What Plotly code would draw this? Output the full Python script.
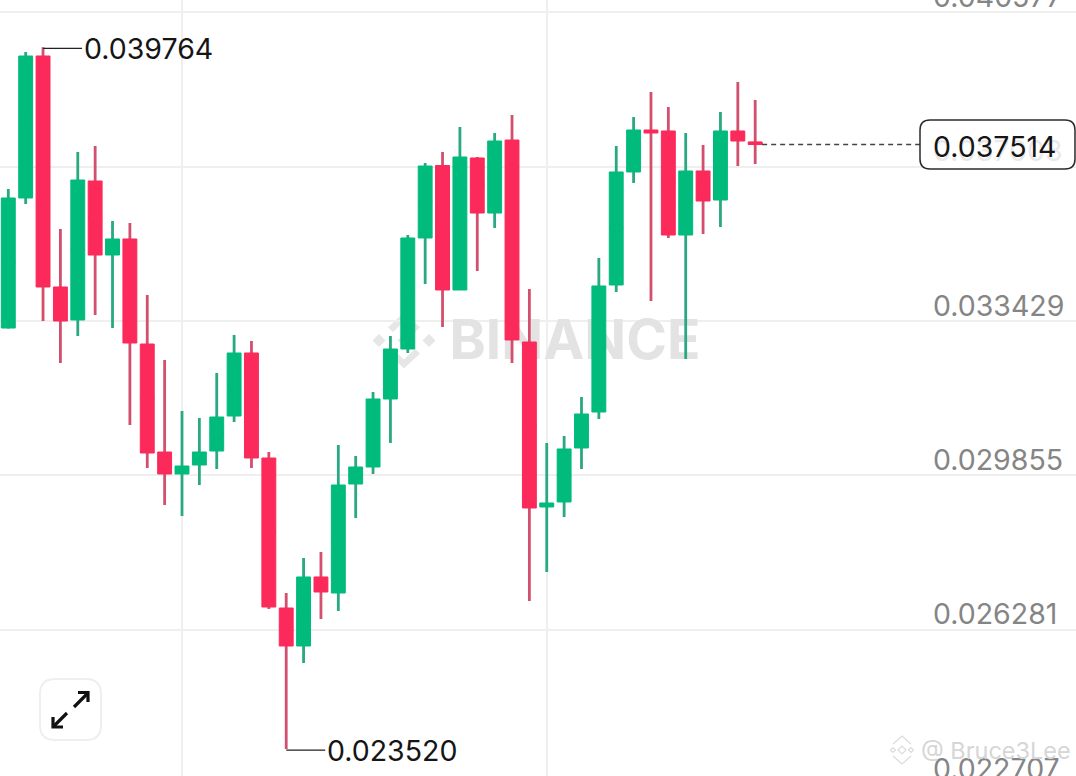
import plotly.graph_objects as go

W, H = 1076, 776

opens = [0.033267, 0.036277, 0.039564, 0.034217, 0.033453, 0.036670, 0.034957, 0.035328, 0.032897, 0.030397,
         0.029888, 0.030096, 0.030420, 0.031230, 0.032689, 0.030258, 0.026786, 0.025906, 0.027504, 0.027133,
         0.029656, 0.030050, 0.031624, 0.032781, 0.035351, 0.037029, 0.034147, 0.037203, 0.035929, 0.037619,
         0.032943, 0.029124, 0.029240, 0.030490, 0.031323, 0.034263, 0.036879, 0.037851, 0.037828, 0.035420,
         0.036902, 0.036230, 0.037828, 0.037573]
highs = [0.036485, 0.039656, 0.039764, 0.035559, 0.037342, 0.037480, 0.035744, 0.035698, 0.034031, 0.032527,
         0.031346, 0.031184, 0.032226, 0.033105, 0.032967, 0.030397, 0.027133, 0.027943, 0.028082, 0.030559,
         0.030305, 0.031786, 0.033082, 0.035420, 0.037087, 0.037342, 0.037920, 0.037226, 0.037781, 0.038198,
         0.034170, 0.030605, 0.030767, 0.031670, 0.034888, 0.037480, 0.038152, 0.038730, 0.038383, 0.037781,
         0.037504, 0.038267, 0.038962, 0.038545]
lows = [0.033256, 0.036138, 0.033429, 0.032457, 0.033082, 0.033568, 0.033267, 0.031022, 0.030027, 0.029170,
        0.028916, 0.029633, 0.030004, 0.031092, 0.030027, 0.026763, 0.023520, 0.025513, 0.026531, 0.026717,
        0.028869, 0.029888, 0.030605, 0.032689, 0.034286, 0.033291, 0.034147, 0.034587, 0.035582, 0.032457,
        0.026948, 0.027619, 0.028892, 0.030004, 0.031161, 0.034101, 0.036624, 0.033892, 0.035351, 0.032550,
        0.035443, 0.035605, 0.037017, 0.037064]
closes = [0.036277, 0.039564, 0.034217, 0.033429, 0.036693, 0.034957, 0.035328, 0.032920, 0.030374, 0.029888,
          0.030073, 0.030397, 0.031207, 0.032689, 0.030258, 0.026809, 0.025906, 0.027504, 0.027156, 0.029633,
          0.030050, 0.031624, 0.032781, 0.035351, 0.037017, 0.034147, 0.037226, 0.035929, 0.037596, 0.032990,
          0.029101, 0.029217, 0.030467, 0.031277, 0.034240, 0.036879, 0.037851, 0.037781, 0.035420, 0.036902,
          0.036207, 0.037828, 0.037596, 0.037514]

price_ticks = [0.040577, 0.037003, 0.033429, 0.029855, 0.026281, 0.022707]
price_labels = ["0.040577", "0.037003", "0.033429", "0.029855", "0.026281", "0.022707"]
time_ticks = [10, 31]
max_price, min_price, last_price = 0.039764, 0.023520, 0.037514
max_index, min_index, last_index = 2, 16, 43

Y_MIN, Y_MAX = 0.022897, 0.040860
X_MIN, X_MAX = -0.478, 61.47

GREEN, RED = "#00bb7c", "#fb2a5a"
GREEN_WICK, RED_WICK = "#2aa882", "#d2506e"
FONT = "Inter"
LABEL_SIZE = 28.5


def px(x):
    return x / W


def py(y):
    return 1 - y / H


def path(*pts, close=False):
    s = "M " + " L ".join(f"{px(x):.5f},{py(y):.5f}" for x, y in pts)
    return s + (" Z" if close else "")


def rounded(x0, y0, x1, y1, r):
    return (f"M {px(x0 + r):.5f},{py(y0):.5f} L {px(x1 - r):.5f},{py(y0):.5f} "
            f"Q {px(x1):.5f},{py(y0):.5f} {px(x1):.5f},{py(y0 + r):.5f} "
            f"L {px(x1):.5f},{py(y1 - r):.5f} Q {px(x1):.5f},{py(y1):.5f} {px(x1 - r):.5f},{py(y1):.5f} "
            f"L {px(x0 + r):.5f},{py(y1):.5f} Q {px(x0):.5f},{py(y1):.5f} {px(x0):.5f},{py(y1 - r):.5f} "
            f"L {px(x0):.5f},{py(y0 + r):.5f} Q {px(x0):.5f},{py(y0):.5f} {px(x0 + r):.5f},{py(y0):.5f} Z")


fig = go.Figure()

# Watermark lives on the base axes so that the candles (overlay axes) cover it.
fig.add_trace(go.Scatter(
    x=[25.4], y=[0.032870], mode="text", text=["BINANCE"], textposition="middle right",
    textfont=dict(family=FONT, size=55, color="#e3e3e3", weight=700),
    hoverinfo="skip", showlegend=False, xaxis="x", yaxis="y",
))

up = [i for i in range(len(opens)) if closes[i] >= opens[i]]
down = [i for i in range(len(opens)) if closes[i] < opens[i]]


def add_group(idx, wick):
    mid = [(opens[i] + closes[i]) / 2 for i in idx]
    fig.add_trace(go.Candlestick(
        x=idx, open=mid, close=mid, high=[highs[i] for i in idx], low=[lows[i] for i in idx],
        increasing=dict(line=dict(color=wick, width=2.8), fillcolor=wick),
        decreasing=dict(line=dict(color=wick, width=2.8), fillcolor=wick),
        whiskerwidth=0, hoverinfo="skip", showlegend=False, xaxis="x2", yaxis="y2",
    ))


def add_bodies(idx, body):
    o = [opens[i] for i in idx]
    c = [closes[i] for i in idx]
    fig.add_trace(go.Candlestick(
        x=idx, open=o, close=c, high=[max(a, b) for a, b in zip(o, c)], low=[min(a, b) for a, b in zip(o, c)],
        increasing=dict(line=dict(color=body, width=1), fillcolor=body),
        decreasing=dict(line=dict(color=body, width=1), fillcolor=body),
        whiskerwidth=0, hoverinfo="skip", showlegend=False, xaxis="x2", yaxis="y2",
    ))


add_group(up, GREEN_WICK)
add_group(down, RED_WICK)
add_bodies(up, GREEN)
add_bodies(down, RED)

shapes = []
# Binance logo of the centre watermark
LOGO = "#e6e6e6"
cx, cy, d = 404, 340.5, 6.5
for ox, oy in [(0, 0), (-25, 0), (25, 0)]:
    shapes.append(dict(type="path", xref="paper", yref="paper", layer="below", line_width=0, fillcolor=LOGO,
                       path=path((cx + ox - d, cy + oy), (cx + ox, cy + oy - d), (cx + ox + d, cy + oy), (cx + ox, cy + oy + d), close=True)))
for s in (-1, 1):
    shapes.append(dict(type="path", xref="paper", yref="paper", layer="below", line_width=0, fillcolor=LOGO,
                       path=path((cx - 11, cy + s * 8.5), (cx, cy + s * 19), (cx + 11, cy + s * 8.5),
                                 (cx + 16, cy + s * 13), (cx, cy + s * 28), (cx - 16, cy + s * 13), close=True)))

# Last-price dashed line and pill
shapes.append(dict(type="line", xref="x2", yref="y2", x0=last_index + 0.4, x1=53, y0=last_price, y1=last_price,
                   line=dict(color="#444444", width=1.4, dash="5px,4px")))
shapes.append(dict(type="path", xref="paper", yref="paper", path=rounded(920, 120, 1075, 169, 10),
                   fillcolor="#ffffff", line=dict(color="#2b2b2b", width=1.5)))

# Expand button
shapes.append(dict(type="path", xref="paper", yref="paper", path=rounded(40, 679, 101, 740, 15),
                   fillcolor="#ffffff", line=dict(color="#efefef", width=2)))
for pts in [[(74, 707), (87, 694)], [(78, 692.5), (88, 692.5), (88, 702)],
            [(67, 713), (54, 726)], [(63, 727), (53, 727), (53, 717)]]:
    shapes.append(dict(type="path", xref="paper", yref="paper", path=path(*pts), line=dict(color="#111111", width=3.2)))

# Small author logo
for ox, oy, r in [(902, 750, 4), (893, 750, 2.5), (911, 750, 2.5)]:
    shapes.append(dict(type="path", xref="paper", yref="paper",
                       path=path((ox - r, oy), (ox, oy - r), (ox + r, oy), (ox, oy + r), close=True),
                       line=dict(color="#dcdcdc", width=1.2)))
shapes.append(dict(type="path", xref="paper", yref="paper", path=path((893, 744), (902, 736), (911, 744)),
                   line=dict(color="#dcdcdc", width=1.2)))
shapes.append(dict(type="path", xref="paper", yref="paper", path=path((893, 756), (902, 764), (911, 756)),
                   line=dict(color="#dcdcdc", width=1.2)))

annotations = []
for value, label in zip(price_ticks, price_labels):
    hidden = label == "0.037003"
    annotations.append(dict(
        xref="paper", yref="paper", x=px(931), y=(value - Y_MIN) / (Y_MAX - Y_MIN), yshift=16,
        text=label, showarrow=False, xanchor="left", yanchor="middle",
        font=dict(family=FONT, size=LABEL_SIZE, color="#e9e9e9" if hidden else "#858585"),
    ))

annotations.append(dict(
    xref="x2", yref="y2", x=max_index, y=max_price, ax=39, ay=0, text=f"{max_price:.6f}", showarrow=True,
    arrowhead=0, arrowwidth=1.2, arrowcolor="#222222", xanchor="left", yanchor="middle", standoff=0, yshift=-1,
    font=dict(family=FONT, size=LABEL_SIZE, color="#151515"),
))
annotations.append(dict(
    xref="x2", yref="y2", x=min_index, y=min_price, ax=39, ay=0, text=f"{min_price:.6f}", showarrow=True,
    arrowhead=0, arrowwidth=1.2, arrowcolor="#222222", xanchor="left", yanchor="middle", standoff=0, yshift=-1,
    font=dict(family=FONT, size=LABEL_SIZE, color="#151515"),
))
annotations.append(dict(
    xref="paper", yref="paper", x=px(931), y=py(146), text=f"{last_price:.6f}", showarrow=False,
    xanchor="left", yanchor="middle", font=dict(family=FONT, size=LABEL_SIZE, color="#151515"),
))
annotations.append(dict(
    xref="paper", yref="paper", x=px(919), y=py(750), text="@ Bruce3Lee", showarrow=False,
    xanchor="left", yanchor="middle", font=dict(family=FONT, size=23.5, color="#d6d6d6"),
))

fig.update_layout(
    width=W, height=H, margin=dict(l=0, r=0, t=0, b=0), autosize=False,
    paper_bgcolor="#ffffff", plot_bgcolor="#ffffff", showlegend=False, boxgap=0.2, boxgroupgap=0,
    xaxis=dict(range=[X_MIN, X_MAX], tickvals=time_ticks, showticklabels=False, showgrid=True,
               gridcolor="#efefef", gridwidth=1.5, zeroline=False, showline=False, ticks="", fixedrange=True),
    yaxis=dict(range=[Y_MIN, Y_MAX], tickvals=price_ticks, showticklabels=False, showgrid=True,
               gridcolor="#efefef", gridwidth=1.5, zeroline=False, showline=False, ticks="", fixedrange=True),
    xaxis2=dict(range=[X_MIN, X_MAX], overlaying="x", visible=False, rangeslider=dict(visible=False), fixedrange=True),
    yaxis2=dict(range=[Y_MIN, Y_MAX], overlaying="y", visible=False, fixedrange=True),
    shapes=shapes, annotations=annotations,
)

fig.write_html("out.html", config={"displayModeBar": False},
               post_script="document.body.style.margin='0';document.body.style.overflow='hidden';")
